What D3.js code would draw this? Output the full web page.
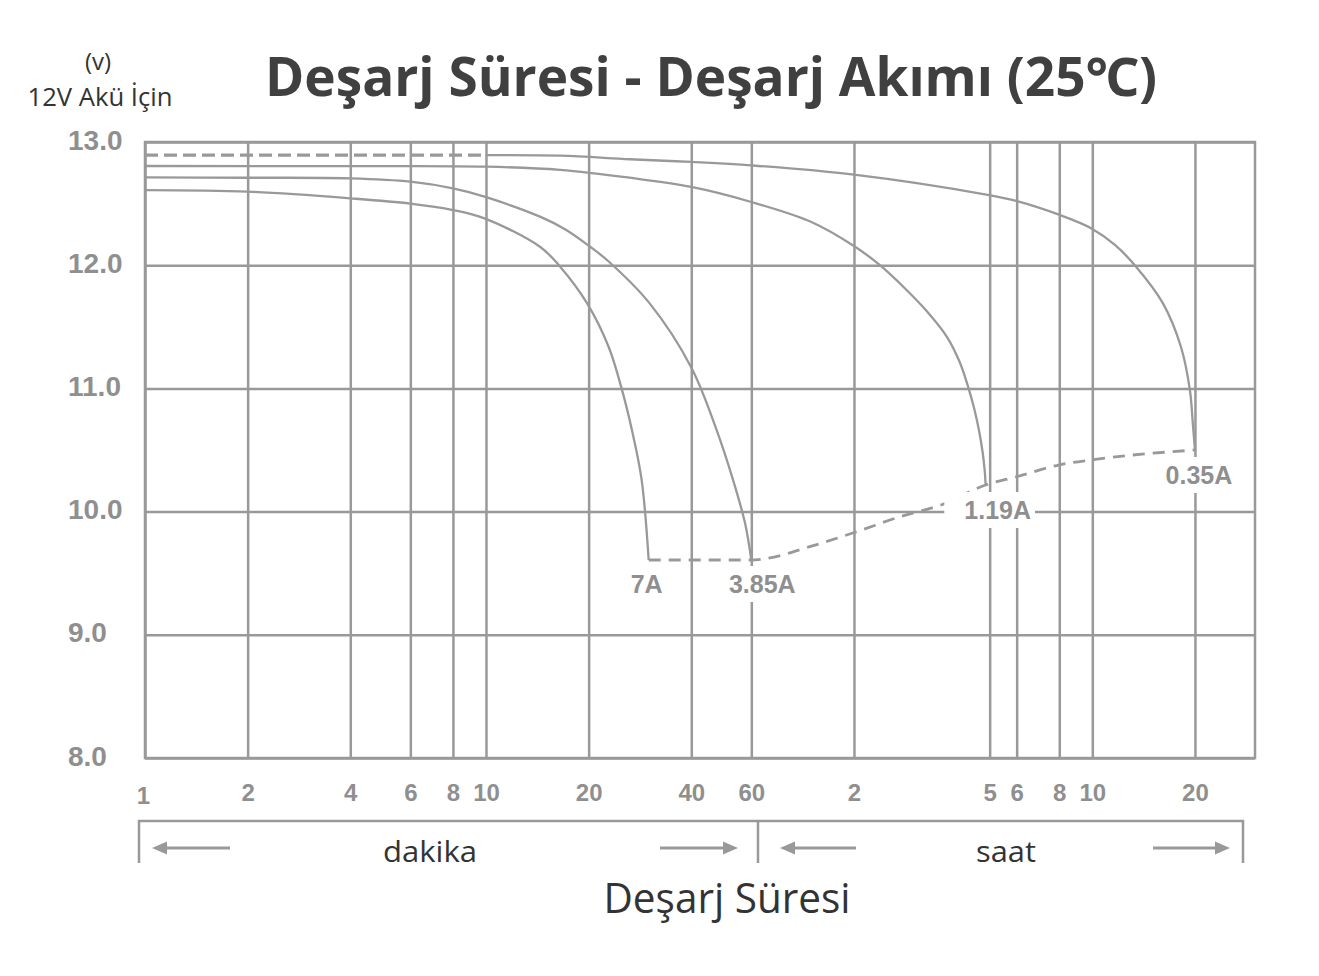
<!DOCTYPE html>
<html><head><meta charset="utf-8">
<script src="https://cdn.jsdelivr.net/npm/d3@7"></script>
<style>body{margin:0;background:#fff} svg{display:block}</style>
</head><body>
<svg id="c" width="1319" height="976"></svg>
<script>
// ---- data ----
const xTickValues = [1,2,4,6,8,10,20,40,60,120,300,360,480,600,1200]; // minutes
const xTickLabels = ["1","2","4","6","8","10","20","40","60","2","5","6","8","10","20"];
const yTickValues = [8,9,10,11,12,13];
const yTickLabels = ["8.0","9.0","10.0","11.0","12.0","13.0"];

const seriesNames = ["7A","3.85A","1.19A","0.35A"];

const t7A = [1,2,4,6,8,9.9,14.4,16.5,19.8,22.9,25.1,26.8,28.6,30];
const v7A = [12.61,12.597,12.543,12.50,12.448,12.38,12.15,11.988,11.69,11.336,10.98,10.66,10.26,9.607];

const t385A = [1,2,4,6,8,9.9,14.4,17.1,20.2,22.9,30.2,40,47.5,53,57.5,60];
const v385A = [12.713,12.71,12.705,12.678,12.624,12.556,12.394,12.29,12.15,12.03,11.69,11.17,10.66,10.26,9.907,9.607];

const t119A = [1,4,10,16.5,26.4,40,60,90,120,143,170,196,225,245,259,270,279,286,290,292];
const v119A = [12.805,12.804,12.80,12.774,12.71,12.635,12.513,12.351,12.156,12.0,11.807,11.628,11.417,11.214,11.019,10.841,10.662,10.484,10.338,10.216];

const t035A = [10,16.5,26.4,40,60,120,293,361,479,595,699,805,967,1092,1160,1184,1200];
const v035A = [12.894,12.889,12.86,12.838,12.81,12.735,12.573,12.52,12.41,12.30,12.164,11.99,11.69,11.336,10.983,10.70,10.50];

const startDashT = [1,10];
const startDashV = [12.894,12.894];

const cutoffT = [30,60,66.6,89,119,164,219,292,360,482,597,1200];
const cutoffV = [9.607,9.607,9.62,9.715,9.826,9.959,10.06,10.216,10.283,10.38,10.42,10.50];

// ---- drawing ----
const svg = d3.select("#c");
const L=145, R=1255, T=142, B=758;
const gray = "#999999", txtGray = "#8f8f8f";
const x = d3.scaleLog().domain([1,1800]).range([L,R]);
const y = d3.scaleLinear().domain([8,13]).range([B,T]);

// vertical grid + x labels
const gx = svg.append("g").attr("transform",`translate(0,${B})`)
  .call(d3.axisBottom(x).tickValues(xTickValues).tickSize(-(B-T)).tickFormat((d,i)=>xTickLabels[i]));
gx.select(".domain").remove();
gx.selectAll(".tick line").attr("stroke",gray).attr("stroke-width",2.5);
gx.selectAll(".tick text").attr("y",43).attr("dy",0)
  .attr("font-family","'Liberation Sans', Arial, sans-serif").attr("font-weight","bold")
  .attr("font-size",24).attr("fill",txtGray);
gx.selectAll(".tick text").filter((d,i)=>i===0).attr("y",46).attr("dx",-2);

// horizontal grid + y labels
const gy = svg.append("g").attr("transform",`translate(${L},0)`)
  .call(d3.axisLeft(y).tickValues(yTickValues).tickSize(-(R-L)).tickFormat((d,i)=>yTickLabels[i]));
gy.select(".domain").remove();
gy.selectAll(".tick line").attr("stroke",gray).attr("stroke-width",2.5);
gy.selectAll(".tick text").attr("x",68-L).attr("dy",0).attr("y",7).attr("text-anchor","start")
  .attr("font-family","'Liberation Sans', Arial, sans-serif").attr("font-weight","bold")
  .attr("font-size",28).attr("fill",txtGray);

// border
svg.append("rect").attr("x",L).attr("y",T).attr("width",R-L).attr("height",B-T)
  .attr("fill","none").attr("stroke",gray).attr("stroke-width",2.5);

const line = d3.line().x(d=>x(d[0])).y(d=>y(d[1])).curve(d3.curveCatmullRom.alpha(0.5));
const zipS = (t,v)=>t.map((d,i)=>[d,v[i]]);
const series = [zipS(t7A,v7A), zipS(t385A,v385A), zipS(t119A,v119A), zipS(t035A,v035A)];

svg.append("g").selectAll("path").data(series).join("path")
  .attr("d",line).attr("fill","none").attr("stroke",gray).attr("stroke-width",2.3);

svg.append("path").datum(zipS(startDashT,startDashV)).attr("d",line)
  .attr("fill","none").attr("stroke",gray).attr("stroke-width",3.2).attr("stroke-dasharray","13,6");

svg.append("path").datum(zipS(cutoffT,cutoffV)).attr("d",d3.line().x(d=>x(d[0])).y(d=>y(d[1])).curve(d3.curveMonotoneX))
  .attr("fill","none").attr("stroke",gray).attr("stroke-width",2.8).attr("stroke-dasharray","12,8");

// series labels at curve ends
const offs = [[-2,33],[11,33],[12,34],[4,34]];
const padL = [6,6,20,6];
const lg = svg.append("g");
series.forEach((s,i)=>{
  const e = s[s.length-1];
  const tx = x(e[0])+offs[i][0], ty = y(e[1])+offs[i][1];
  const bg = lg.append("rect").attr("fill","#fff");
  const t = lg.append("text").attr("x",tx).attr("y",ty).attr("text-anchor","middle")
    .attr("font-family","'Liberation Sans', Arial, sans-serif").attr("font-weight","bold")
    .attr("font-size",25).attr("fill",txtGray).text(seriesNames[i]);
  const bb = t.node().getBBox();
  bg.attr("x",bb.x-padL[i]).attr("y",bb.y-4).attr("width",bb.width+padL[i]+4).attr("height",bb.height+8);
});

// titles
function txt(str,xp,yp,size,weight,fill,len){
  const t = svg.append("text").attr("x",xp).attr("y",yp).attr("text-anchor","middle")
    .attr("font-family","'Open Sans', 'Noto Sans', sans-serif").attr("font-weight",weight)
    .attr("font-size",size).attr("fill",fill).text(str);
  if(len){ t.attr("textLength",len).attr("lengthAdjust","spacingAndGlyphs"); }
  return t;
}
txt("Deşarj Süresi - Deşarj Akımı (25℃)",711,96,53,700,"#404040",892);
txt("(v)",98,70,24,400,"#333",null);
txt("12V Akü İçin",100,106,25,400,"#333",145);
txt("dakika",430,862,30,400,"#333",94);
txt("saat",1006,862,30,400,"#333",60);
txt("Deşarj Süresi",727,913,42,400,"#333",247);

// bracket with arrows
const br = svg.append("g").attr("stroke",gray).attr("stroke-width",2.5).attr("fill","none");
br.append("path").attr("d","M139,863 L139,821 L1243,821 L1243,863");
br.append("path").attr("d","M758,821 L758,863");
const arrows = [[230,152],[660,738],[856,780],[1153,1230]];
arrows.forEach(([a,b])=>{
  svg.append("line").attr("x1",a).attr("y1",848).attr("x2",b+(b<a?10:-10)).attr("y2",848)
    .attr("stroke",gray).attr("stroke-width",3);
  const dir = b<a?1:-1;
  svg.append("path").attr("d",`M${b},848 L${b+dir*15},841.5 L${b+dir*15},854.5 Z`).attr("fill",gray);
});
</script>
</body></html>
